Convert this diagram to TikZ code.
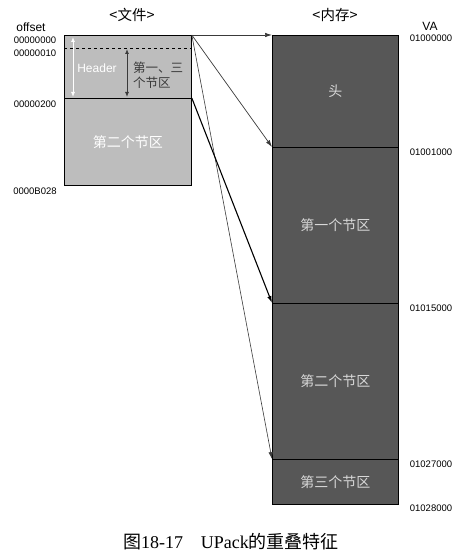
\documentclass[tikz,border=0pt]{standalone}
\usepackage{fontspec}
\setmainfont{Liberation Sans}
\newfontfamily\cjk{Noto Sans CJK SC}
\newfontfamily\serifc{Liberation Serif}
\usetikzlibrary{arrows.meta}
\definecolor{filegrey}{HTML}{BDBDBD}
\definecolor{memgrey}{HTML}{575757}
\definecolor{memtext}{HTML}{D8D8D8}
\definecolor{linegrey}{HTML}{3A3A3A}
\tikzset{
  filebox/.style={draw=black, line width=0.8pt, fill=filegrey, anchor=north west, inner sep=0pt, minimum width=127pt, text=white, font=\cjk\fontsize{14}{16}\selectfont},
  membox/.style={draw=black, line width=0.8pt, fill=memgrey, anchor=north west, inner sep=0pt, minimum width=126pt, text=memtext, font=\cjk\fontsize{14}{16}\selectfont},
  addr/.style={font=\fontsize{9.5}{11}\selectfont, inner sep=0pt},
  title/.style={font=\cjk\fontsize{14.5}{16}\selectfont, inner sep=0pt},
  maparrow/.style={draw=linegrey, line width=0.7pt, -{Latex[length=7pt,width=4.5pt]}},
  maparrowthick/.style={draw=black, line width=1.1pt, -{Latex[length=7pt,width=4.5pt]}},
  dimarrow/.style={line width=0.9pt, {Latex[length=5pt,width=4pt]}-{Latex[length=5pt,width=4pt]}}
}
\begin{document}
\begin{tikzpicture}[x=1pt,y=-1pt]
\useasboundingbox (0,0) rectangle (457,553);
% file
\node[filebox, minimum height=63pt] (fileA) at (64,35) {};
\node[filebox, minimum height=87pt] (fileB) at (64,98) {第二个节区};
\coordinate (dashL) at (64,48);
\coordinate (dashR) at (191,48);
\draw[dashed, line width=0.8pt] (dashL) -- (dashR);
% memory
\node[membox, minimum height=112pt] (m1) at (272,35) {头};
\node[membox, minimum height=156pt] (m2) at (272,147) {\raisebox{-6pt}{第一个节区}};
\node[membox, minimum height=156pt] (m3) at (272,303) {\raisebox{-4pt}{第二个节区}};
\node[membox, minimum height=45pt] (m4) at (272,459) {\raisebox{-3pt}{第三个节区}};
% header arrows
\coordinate (hA1) at (73,37);
\coordinate (hA2) at (73,97);
\draw[dimarrow, white] (hA1) -- (hA2);
\node[font=\fontsize{12}{14}\selectfont, text=white, inner sep=0pt] (hdr) at (97,68) {Header};
\coordinate (sA1) at (127,49);
\coordinate (sA2) at (127,97);
\draw[dimarrow, linegrey] (sA1) -- (sA2);
\node[font=\cjk\fontsize{12.5}{15.5}\selectfont, text=linegrey, align=left, inner sep=0pt, anchor=west] (s13) at (133,75) {第一、三\\个节区};
% titles
\node[title] (tfile) at (132,15) {<文件>};
\node[title] (tmem) at (335,15) {<内存>};
\node[font=\fontsize{12}{14}\selectfont, inner sep=0pt] (offs) at (31,27) {offset};
\node[font=\fontsize{12}{14}\selectfont, inner sep=0pt] (va) at (430,26) {VA};
% offsets
\node[addr] (o0) at (35,40) {00000000};
\node[addr] (o1) at (35,53) {00000010};
\node[addr] (o2) at (35,104) {00000200};
\node[addr] (o3) at (35,191) {0000B028};
% VAs
\node[addr] (v0) at (431,38) {01000000};
\node[addr] (v1) at (431,152) {01001000};
\node[addr] (v2) at (431,308) {01015000};
\node[addr] (v3) at (431,464) {01027000};
\node[addr] (v4) at (431,508) {01028000};
% mapping arrows
\draw[maparrow] (fileA.north east) -- (m1.north west);
\draw[maparrow] (fileA.north east) -- (m2.north west);
\draw[maparrow, line width=0.6pt] (fileA.north east) -- (m4.north west);
\draw[maparrowthick] (fileB.north east) -- (m3.north west);
% caption
\node[inner sep=0pt, font=\fontsize{18}{20}\selectfont] (cap) at (231,542) {{\cjk 图}{\serifc 18-17}\hspace{1em}{\serifc UPack}{\cjk 的重叠特征}};
\end{tikzpicture}
\end{document}
